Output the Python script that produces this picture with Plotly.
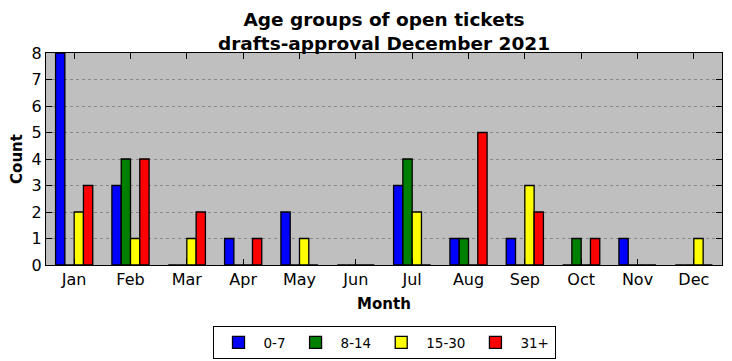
import plotly.graph_objects as go

months = ["Jan", "Feb", "Mar", "Apr", "May", "Jun", "Jul", "Aug", "Sep", "Oct", "Nov", "Dec"]
s_0_7 = [8, 3, 0, 1, 2, 0, 3, 1, 1, 0, 1, 0]
s_8_14 = [0, 4, 0, 0, 0, 0, 4, 1, 0, 1, 0, 0]
s_15_30 = [2, 1, 1, 0, 1, 0, 2, 0, 3, 0, 0, 1]
s_31p = [3, 4, 2, 1, 0, 0, 0, 5, 2, 1, 0, 0]
y_ticks = [0, 1, 2, 3, 4, 5, 6, 7, 8]

series = [("0-7", s_0_7, "#0000ff"), ("8-14", s_8_14, "#008000"),
          ("15-30", s_15_30, "#ffff00"), ("31+", s_31p, "#ff0000")]

fig = go.Figure()
for name, vals, col in series:
    fig.add_trace(go.Bar(x=months, y=vals, name=name,
                         marker=dict(color=col, line=dict(color="black", width=1.3))))

font = "DejaVu Sans"
# page body has an 8px margin, so the figure is sized to fit the 732x361 window
fig.update_layout(
    width=724, height=353,
    margin=dict(l=38, r=10, t=45, b=96, autoexpand=False),
    paper_bgcolor="white", plot_bgcolor="#bfbfbf",
    barmode="group", bargap=0.34, bargroupgap=0,
    font=dict(family=font, size=14, color="black"),
    title=dict(text="<b>Age groups of open tickets<br>drafts-approval December 2021</b>",
               x=0.5, xref="paper", xanchor="center", y=0.948, yref="container", yanchor="top",
               font=dict(size=18.5, family=font)),
    showlegend=True,
    legend=dict(orientation="h", x=0.5, xanchor="center", xref="paper",
                y=-0.288, yanchor="top", yref="paper",
                bordercolor="black", borderwidth=1, bgcolor="white",
                font=dict(size=13.5), itemwidth=40, traceorder="normal"),
)
fig.update_xaxes(
    range=[-0.5, 11.5], showline=True, linecolor="black", linewidth=1, mirror="ticks",
    ticks="inside", ticklen=6, tickcolor="black", showgrid=False, automargin=False,
    tickfont=dict(size=16),
    title=dict(text="<b>Month</b>", font=dict(size=15), standoff=10),
)
fig.update_yaxes(
    range=[0, 8], tickvals=y_ticks, showline=True, linecolor="black", linewidth=1, mirror="ticks",
    ticks="inside", ticklen=6, tickcolor="black", automargin=False,
    showgrid=True, gridcolor="#888888", griddash="dot", gridwidth=1, zeroline=False,
    tickfont=dict(size=16),
    title=dict(text="<b>Count</b>", font=dict(size=15), standoff=5),
)
fig.write_html("out.html")
